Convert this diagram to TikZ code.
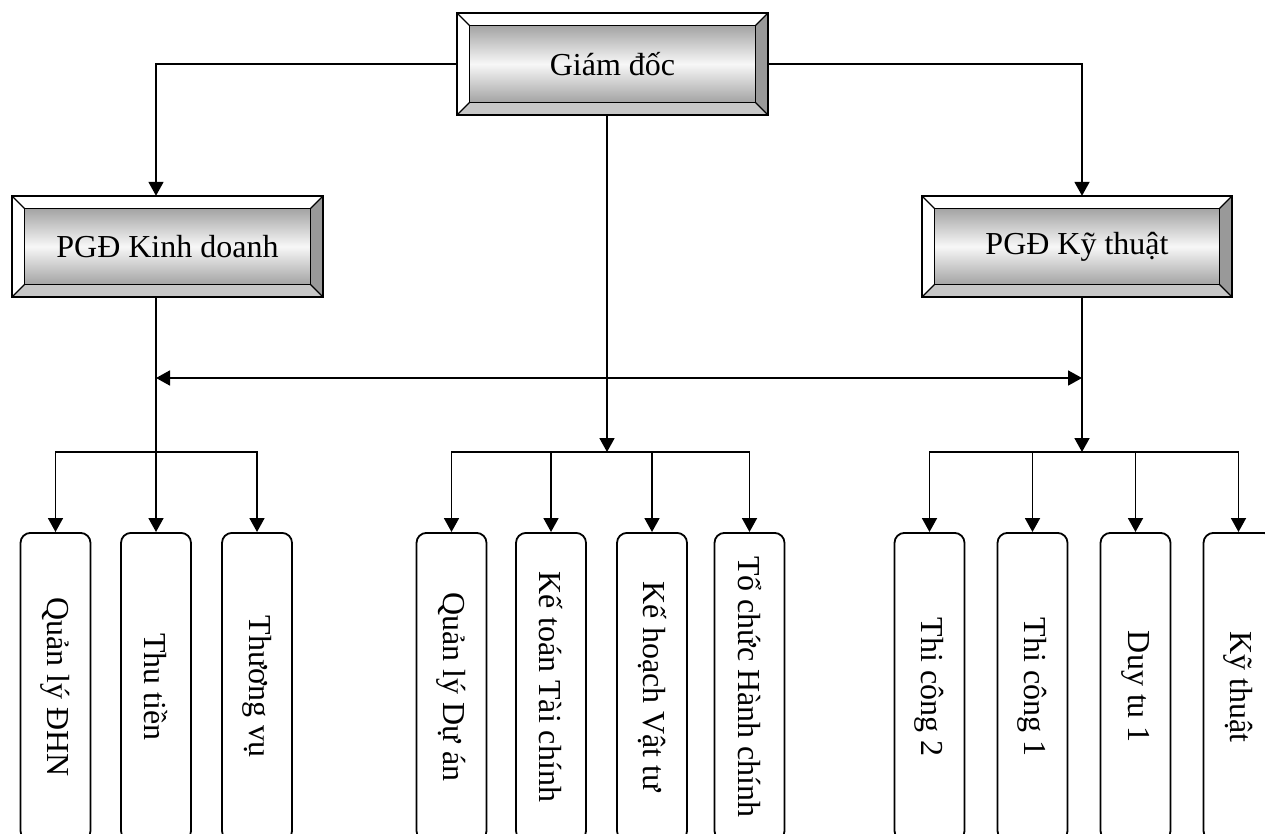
\documentclass[tikz,border=0pt]{standalone}
\usepackage{fontspec}
\setmainfont{Liberation Serif}
\usepackage{graphicx}
\usetikzlibrary{arrows.meta,calc}
\definecolor{bevR}{gray}{0.6}
\definecolor{bevB}{gray}{0.78}
\definecolor{faceE}{gray}{0.64}
\definecolor{faceM}{gray}{0.97}
\newcommand\lblfont{\fontsize{32}{37}\selectfont}
\tikzset{
  conn/.style={line width=1.8pt},
  arr/.style={conn,-{Triangle[length=14pt,width=15pt]}},
  darr/.style={conn,{Triangle[length=14pt,width=15pt]}-{Triangle[length=14pt,width=15pt]}},
  unitbox/.style={draw,line width=1.8pt,rounded corners=10pt,minimum width=70pt,
    minimum height=308pt,inner sep=0pt,anchor=north,font=\lblfont},
  bevelnode/.style={inner sep=0pt,font=\lblfont}
}
\newcommand\bbox[6]{%
  \fill[white] (#2,#3) rectangle (#4,#5);
  \fill[bevR] (#4,#3) -- (#4,#5) -- ({#4-12.5},{#5-12.5}) -- ({#4-12.5},{#3+12.5}) -- cycle;
  \fill[bevB] (#2,#5) -- (#4,#5) -- ({#4-12.5},{#5-12.5}) -- ({#2+12.5},{#5-12.5}) -- cycle;
  \shade[top color=faceE,bottom color=faceE,middle color=faceM]
    ({#2+12.5},{#3+12.5}) rectangle ({#4-12.5},{#5-12.5});
  \draw[line width=1.2pt] ({#2+12.5},{#3+12.5}) rectangle ({#4-12.5},{#5-12.5});
  \draw[line width=1.2pt] (#2,#3) -- ({#2+12.5},{#3+12.5})
    (#4,#3) -- ({#4-12.5},{#3+12.5})
    (#2,#5) -- ({#2+12.5},{#5-12.5})
    (#4,#5) -- ({#4-12.5},{#5-12.5});
  \draw[line width=1.8pt] (#2,#3) rectangle (#4,#5);
  \node[bevelnode,minimum width={#4-#2},minimum height={#5-#3}] (#1)
    at ({(#2+#4)/2},{(#3+#5)/2}) {#6};
}
\begin{document}
\begin{tikzpicture}[x=1pt,y=-1pt]
\useasboundingbox (0,0) rectangle (1265,834);
\clip (0,0) rectangle (1265,834);

\bbox{gd}{457}{13}{768}{115}{Giám đốc}
\bbox{pgdkd}{12}{196}{323}{297}{PGĐ Kinh doanh}
\bbox{pgdkt}{922}{196}{1232}{297}{PGĐ Kỹ thuật}

% bottom units
\node[unitbox] (b1) at (55.5,532) {\rotatebox{-90}{Quản lý ĐHN}};
\node[unitbox] (b2) at (156,532) {\rotatebox{-90}{Thu tiền}};
\node[unitbox] (b3) at (257,532) {\rotatebox{-90}{Thương vụ}};
\node[unitbox] (c1) at (451.5,532) {\rotatebox{-90}{Quản lý Dự án}};
\node[unitbox] (c2) at (551,532) {\rotatebox{-90}{Kế toán Tài chính}};
\node[unitbox] (c3) at (652,532) {\rotatebox{-90}{Kế hoạch Vật tư}};
\node[unitbox] (c4) at (749.5,532) {\rotatebox{-90}{Tổ chức Hành chính}};
\node[unitbox] (r1) at (929.5,532) {\rotatebox{-90}{Thi công 2}};
\node[unitbox] (r2) at (1032.5,532) {\rotatebox{-90}{Thi công 1}};
\node[unitbox] (r3) at (1135.5,532) {\rotatebox{-90}{Duy tu 1}};
\node[unitbox] (r4) at (1238.5,532) {\rotatebox{-90}{Kỹ thuật}};

% junction coordinates
\coordinate (jC) at (607,452);
\coordinate (jR) at (1082,452);
\coordinate (hbus) at (0,378);

% connectors
\draw[arr] (gd.west) -| (pgdkd.north -| b2.north);
\draw[arr] (gd.east) -| (pgdkt.north -| jR);
\draw[arr] (gd.south -| jC) -- (jC);
\draw[arr] (pgdkd.south -| b2.north) -- (b2.north);
\draw[arr] (pgdkt.south -| jR) -- (jR);
\draw[darr] (b2.north |- hbus) -- (jR |- hbus);

\draw[arr] (b2.north |- jC) -| (b1.north);
\draw[arr] (b2.north |- jC) -| (b3.north);

\draw[arr] (jC) -| (c1.north);
\draw[arr] (jC) -| (c2.north);
\draw[arr] (jC) -| (c3.north);
\draw[arr] (jC) -| (c4.north);

\draw[arr] (jR) -| (r1.north);
\draw[arr] (jR) -| (r2.north);
\draw[arr] (jR) -| (r3.north);
\draw[arr] (jR) -| (r4.north);
\end{tikzpicture}
\end{document}
